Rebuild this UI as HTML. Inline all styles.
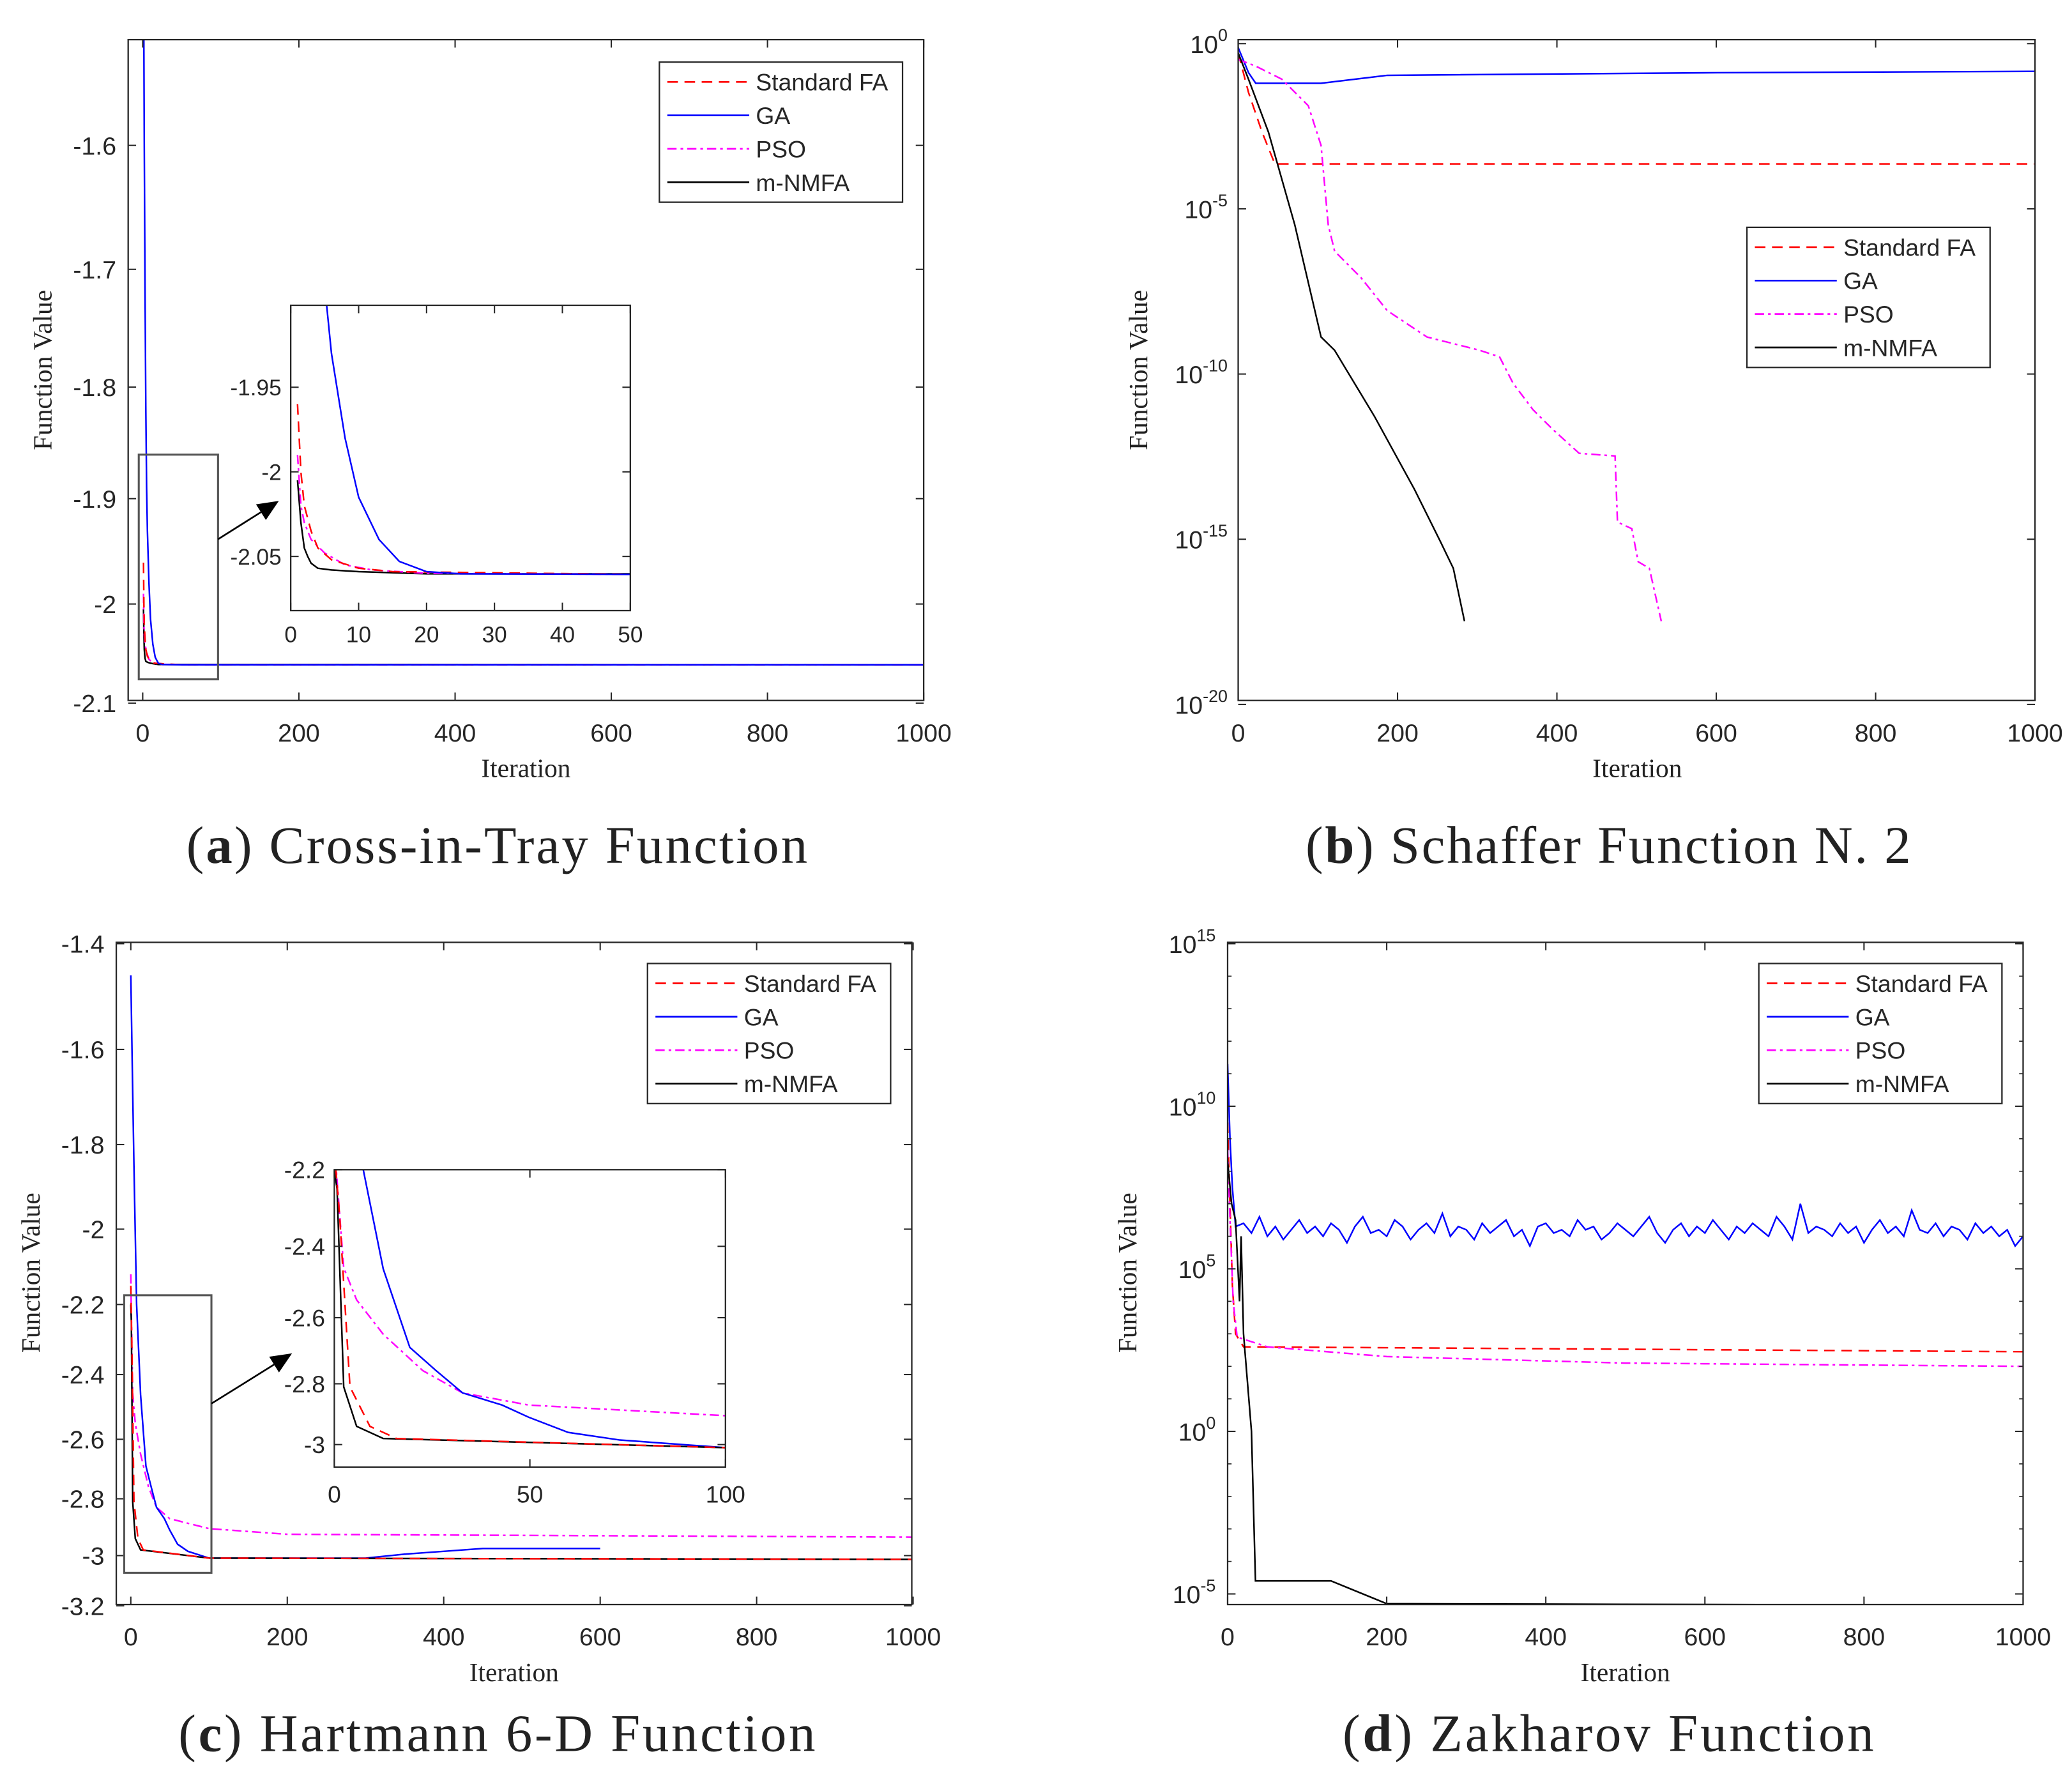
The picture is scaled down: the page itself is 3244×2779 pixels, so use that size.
<!DOCTYPE html>
<html><head><meta charset="utf-8">
<style>
html,body{margin:0;padding:0;background:#fff;}
svg{display:block;}
text{font-family:"Liberation Sans",Arial,sans-serif;fill:#262626;}
.serif{font-family:"Liberation Serif","Times New Roman",serif;fill:#222;}
</style></head>
<body>
<svg id="fig" width="3244" height="2779" viewBox="0 0 1568 1343" preserveAspectRatio="none" xmlns="http://www.w3.org/2000/svg"></svg>
<script>
// ---------- DATA ----------
const xTicks = [0,200,400,600,800,1000];
const insetATicksX = [0,10,20,30,40,50];
const insetCTicksX = [0,50,100];
const aTicksY = [-2.1,-2,-1.9,-1.8,-1.7,-1.6];
const aInsetTicksY = [-2.05,-2,-1.95];
const cTicksY = [-3.2,-3,-2.8,-2.6,-2.4,-2.2,-2,-1.8,-1.6,-1.4];
const cInsetTicksY = [-3,-2.8,-2.6,-2.4,-2.2];
const bTicksExp = [-20,-15,-10,-5,0];
const dTicksExp = [-5,0,5,10,15];

// (a) Cross-in-Tray
const aGaIter = [0,1,2,3,4,5,6,8,10,13,16,20,25,50,1000];
const aGaVal  = [-1.3,-1.45,-1.6,-1.72,-1.82,-1.89,-1.93,-1.98,-2.015,-2.04,-2.053,-2.059,-2.0603,-2.0606,-2.0606];
const aFaIter = [1,1.5,2,3,4,6,10,15,50,1000];
const aFaVal  = [-1.96,-2.0,-2.02,-2.035,-2.045,-2.052,-2.057,-2.059,-2.0606,-2.0606];
const aPsoIter = [1,1.5,2,3,5,8,12,20,50,1000];
const aPsoVal  = [-1.99,-2.02,-2.03,-2.04,-2.048,-2.055,-2.058,-2.06,-2.0606,-2.0606];
const aNmIter = [1,1.5,2,2.5,3,4,6,10,20,1000];
const aNmVal  = [-2.005,-2.03,-2.045,-2.05,-2.054,-2.057,-2.058,-2.059,-2.0603,-2.0606];

// (b) Schaffer N.2 (log10 of value)
const bGaIter = [0,13,22,104,187,602,1000];
const bGaLog  = [-0.12,-0.88,-1.2,-1.2,-0.96,-0.88,-0.84];
const bFaIter = [0,13,30,46,1000];
const bFaLog  = [-0.28,-1.48,-2.68,-3.64,-3.64];
const bPsoIter = [0,22,55,88,104,113,121,154,187,237,303,328,345,370,395,428,473,476,494,502,516,531];
const bPsoLog  = [-0.48,-0.68,-1.08,-1.88,-3.08,-5.48,-6.28,-7.08,-8.08,-8.88,-9.28,-9.48,-10.28,-11.08,-11.68,-12.4,-12.48,-14.48,-14.68,-15.68,-15.88,-17.48];
const bNmIter = [0,13,38,71,104,121,171,221,254,270,284];
const bNmLog  = [-0.28,-1.08,-2.68,-5.48,-8.88,-9.28,-11.28,-13.48,-15.08,-15.88,-17.48];

// (c) Hartmann 6-D
const cGaIter = [0,2,4,7.4,12.5,19.3,26,32.8,42.9,49.7,59.8,73,100,300,350,400,450,600];
const cGaVal  = [-1.46,-1.65,-1.85,-2.2,-2.463,-2.69,-2.76,-2.83,-2.87,-2.91,-2.96,-2.985,-3.01,-3.01,-2.995,-2.985,-2.975,-2.975];
const cPsoIter = [0,0.5,2.4,5.7,12.5,22.6,32.8,49.7,100,200,1000];
const cPsoVal  = [-2.12,-2.2,-2.46,-2.55,-2.65,-2.76,-2.83,-2.87,-2.905,-2.925,-2.935];
const cFaIter = [0,1.35,4,9.1,15.9,100,1000];
const cFaVal  = [-2.15,-2.32,-2.81,-2.94,-2.98,-3.01,-3.015];
const cNmIter = [0,0.7,2.4,5.7,12.5,100,1000];
const cNmVal  = [-2.2,-2.25,-2.81,-2.94,-2.98,-3.01,-3.015];

// (d) Zakharov (log10 of value)
const dGaHeadIter = [0,3,6,10];
const dGaHeadLog  = [11.3,9,7.5,6.3];
const dGaNoiseLog = [6.4,6.1,6.6,6.0,6.3,5.9,6.2,6.5,6.1,6.3,6.0,6.4,6.2,5.8,6.3,6.6,6.1,6.2,6.0,6.5,
6.3,5.9,6.2,6.4,6.1,6.7,6.0,6.3,6.2,5.9,6.4,6.1,6.3,6.5,6.0,6.2,5.7,6.3,6.4,6.1,
6.2,6.0,6.5,6.2,6.3,5.9,6.1,6.4,6.2,6.0,6.3,6.6,6.1,5.8,6.2,6.4,6.0,6.3,6.1,6.5,
6.2,5.9,6.3,6.1,6.4,6.2,6.0,6.6,6.3,5.9,7.0,6.1,6.3,6.2,6.0,6.4,6.1,6.3,5.8,6.2,
6.5,6.1,6.3,6.0,6.8,6.2,6.1,6.4,6.0,6.3,6.2,5.9,6.4,6.1,6.3,6.0,6.2,5.7,6.0];
const dFaIter = [0,3,6,10,20,1000];
const dFaLog  = [9.5,7,4.5,3,2.6,2.45];
const dPsoIter = [0,3,7,12,50,200,500,1000];
const dPsoLog  = [8.7,6.5,4,2.9,2.6,2.3,2.1,2.0];
const dNmIter = [0,5,10,15,17,20,30,35,130,150,200,1000];
const dNmLog  = [8.3,7,6.5,4,6,3,0,-4.6,-4.6,-4.8,-5.3,-5.35];

const legendLabels = ['Standard FA','GA','PSO','m-NMFA'];

// ---------- HELPERS ----------
const NS='http://www.w3.org/2000/svg';
const svg=document.getElementById('fig');
function el(tag,attrs,parent){const e=document.createElementNS(NS,tag);for(const k in attrs)e.setAttribute(k,attrs[k]);(parent||svg).appendChild(e);return e;}
function lin(d0,d1,r0,r1){return v=>r0+(v-d0)*(r1-r0)/(d1-d0);}
function piece(vals,px){return v=>{let i=0;while(i<vals.length-2&&v>vals[i+1])i++;return px[i]+(v-vals[i])*(px[i+1]-px[i])/(vals[i+1]-vals[i]);};}
const STY={
 fa:{stroke:'#ff0000',dash:'8,5'},
 ga:{stroke:'#0000ff',dash:''},
 pso:{stroke:'#ff00ff',dash:'7,3,2,3'},
 nm:{stroke:'#000000',dash:''}
};
let clipN=0;
function clip(x0,y0,x1,y1){const id='c'+(clipN++);const cp=el('clipPath',{id:id});el('rect',{x:x0,y:y0,width:x1-x0,height:y1-y0},cp);return 'url(#'+id+')';}
function series(g,xs,ys,X,Y,sty,name,cp){
 const d=xs.map((x,i)=>(i?'L':'M')+X(x).toFixed(2)+','+Y(ys[i]).toFixed(2)).join(' ');
 const p=el('path',{d:d,fill:'none',stroke:sty.stroke,'stroke-width':1.2,'clip-path':cp},g);
 if(sty.dash)p.setAttribute('stroke-dasharray',sty.dash);
 
 
 return p;
}
function frame(g,x0,y0,x1,y1,name){
 const r=el('rect',{x:x0,y:y0,width:x1-x0,height:y1-y0,fill:'none',stroke:'#262626','stroke-width':1.1},g);
 
 
}
function xAxis(g,ticks,X,y0,y1,fs,dy,name){
 const ax=el('g',{},g);
 
 
 ticks.forEach(t=>{const x=X(t);
  el('line',{x1:x,y1:y1,x2:x,y2:y1-6,stroke:'#262626','stroke-width':1},ax);
  el('line',{x1:x,y1:y0,x2:x,y2:y0+6,stroke:'#262626','stroke-width':1},ax);
  const tx=el('text',{x:x,y:y1+dy,'font-size':fs,'text-anchor':'middle'},ax);tx.textContent=t;
  
  
 });
}
function yAxis(g,ticks,Y,x0,x1,fs,labelFn,name){
 const ax=el('g',{},g);
 
 
 ticks.forEach(t=>{const y=Y(t);
  el('line',{x1:x0,y1:y,x2:x0+6,y2:y,stroke:'#262626','stroke-width':1},ax);
  el('line',{x1:x1,y1:y,x2:x1-6,y2:y,stroke:'#262626','stroke-width':1},ax);
  labelFn(ax,t,y);
 });
}
function plainY(xr,fs){return (ax,t,y)=>{const tx=el('text',{x:xr,y:y+fs*0.36,'font-size':fs,'text-anchor':'end'},ax);tx.textContent=String(t);
 
 };}
function expY(xr){return (ax,t,y)=>{const tx=el('text',{x:xr,y:y+7,'font-size':19,'text-anchor':'end'},ax);
 const a=el('tspan',{},tx);a.textContent='10';
 const b=el('tspan',{dy:-9,'font-size':13},tx);b.textContent=String(t);
 
 };}
function legend(g,x0,y0,name){
 const lg=el('g',{},g);
 
 
 el('rect',{x:x0,y:y0,width:184,height:106,fill:'#fff',stroke:'#262626','stroke-width':1.1},lg);
 const keys=['fa','ga','pso','nm'];
 keys.forEach((k,i)=>{const yy=y0+15+i*25.3;
  const ent=el('g',{},lg);
  
  
  const l=el('line',{x1:x0+6,y1:yy,x2:x0+68,y2:yy,stroke:STY[k].stroke,'stroke-width':1.3},ent);
  if(STY[k].dash)l.setAttribute('stroke-dasharray',STY[k].dash);
  const t=el('text',{x:x0+73,y:yy+6.5,'font-size':18},ent);t.textContent=legendLabels[i];
 });
}
function axisTitles(g,cx,yIter,xv,cyv,name){
 const t=el('text',{x:cx,y:yIter,'font-size':20,'text-anchor':'middle',class:'serif'},g);t.textContent='Iteration';
 
 
 const v=el('text',{x:xv,y:cyv,'font-size':20,'text-anchor':'middle',class:'serif',transform:'rotate(-90 '+xv+' '+cyv+')'},g);v.textContent='Function Value';
 
 
}
function caption(cx,cy,letter,title,name,w){
 const t=el('text',{x:cx-w/2,y:cy,'font-size':40,'text-anchor':'start',class:'serif',textLength:w,lengthAdjust:'spacing'});
 const a=el('tspan',{},t);a.textContent='(';
 const b=el('tspan',{'font-weight':'bold'},t);b.textContent=letter;
 const c=el('tspan',{},t);c.textContent=') '+title;
 
 
}
function arrow(g,x1,y1,x2,y2,name){
 const a=el('g',{},g);
 
 
 const ang=Math.atan2(y2-y1,x2-x1),L=16,W=7;
 const bx=x2-L*Math.cos(ang),by=y2-L*Math.sin(ang);
 el('line',{x1:x1,y1:y1,x2:bx,y2:by,stroke:'#000','stroke-width':1.3},a);
 el('polygon',{points:[x2,y2,bx+W*Math.sin(ang),by-W*Math.cos(ang),bx-W*Math.sin(ang),by+W*Math.cos(ang)].join(','),fill:'#000'},a);
}

// ---------- PANEL A ----------
(function(){
 const g=el('g',{});
 const X=lin(0,1000,108,699);
 const Y=v=>{const t=v+2.1;return 532-(726.5*t+235*t*t);};
 const cp=clip(97,30,699,530);
 series(g,aNmIter,aNmVal,X,Y,STY.nm,'a-mnmfa-line',cp);
 series(g,aPsoIter,aPsoVal,X,Y,STY.pso,'a-pso-line',cp);
 series(g,aFaIter,aFaVal,X,Y,STY.fa,'a-fa-line',cp);
 series(g,aGaIter,aGaVal,X,Y,STY.ga,'a-ga-line',cp);
 frame(g,97,30,699,530,'a-plot-frame');
 xAxis(g,xTicks,X,30,530,19,31,'a-x-axis');
 yAxis(g,aTicksY,Y,97,699,19,plainY(88,19),'a-y-axis');
 axisTitles(g,398,588,39,280,'a');
 legend(g,499,47,'a-legend');
 const zr=el('rect',{x:105,y:344,width:60,height:170,fill:'none',stroke:'#555','stroke-width':1.5},g);
 
 arrow(g,165,408,211,379,'a-zoom-arrow');
 const ig=el('g',{},g);
 el('rect',{x:220,y:231,width:257,height:231,fill:'#fff'},ig);
 const IX=lin(0,50,220,477),IY=lin(-2,-2.05,357,421);
 const icp=clip(220,231,477,462);
 series(ig,aNmIter,aNmVal,IX,IY,STY.nm,'a-inset-mnmfa-line',icp);
 series(ig,aPsoIter,aPsoVal,IX,IY,STY.pso,'a-inset-pso-line',icp);
 series(ig,aFaIter,aFaVal,IX,IY,STY.fa,'a-inset-fa-line',icp);
 series(ig,aGaIter,aGaVal,IX,IY,STY.ga,'a-inset-ga-line',icp);
 frame(ig,220,231,477,462,'a-inset-frame');
 xAxis(ig,insetATicksX,IX,231,462,17,24,'a-inset-x-axis');
 yAxis(ig,aInsetTicksY,IY,220,477,17,plainY(213,17),'a-inset-y-axis');
})();

// ---------- PANEL B ----------
(function(){
 const g=el('g',{});
 const X=lin(0,1000,937,1540);
 const Y=lg=>33-lg*25;
 const cp=clip(937,30,1540,530);
 series(g,bGaIter,bGaLog,X,Y,STY.ga,'b-ga-line',cp);
 series(g,bFaIter,bFaLog,X,Y,STY.fa,'b-fa-line',cp);
 series(g,bPsoIter,bPsoLog,X,Y,STY.pso,'b-pso-line',cp);
 series(g,bNmIter,bNmLog,X,Y,STY.nm,'b-mnmfa-line',cp);
 frame(g,937,30,1540,530,'b-plot-frame');
 xAxis(g,xTicks,X,30,530,19,31,'b-x-axis');
 yAxis(g,bTicksExp,Y,937,1540,19,expY(929),'b-y-axis');
 axisTitles(g,1239,588,868,280,'b');
 legend(g,1322,172,'b-legend');
})();

// ---------- PANEL C ----------
(function(){
 const g=el('g',{});
 const X=lin(0,1000,99,691);
 const Y=piece(cTicksY,[1215,1177,1134,1089,1040,987,930,866,794,714]);
 const cp=clip(88,713,690,1214);
 series(g,cPsoIter,cPsoVal,X,Y,STY.pso,'c-pso-line',cp);
 series(g,cGaIter,cGaVal,X,Y,STY.ga,'c-ga-line',cp);
 series(g,cNmIter,cNmVal,X,Y,STY.nm,'c-mnmfa-line',cp);
 series(g,cFaIter,cFaVal,X,Y,STY.fa,'c-fa-line',cp);
 frame(g,88,713,690,1214,'c-plot-frame');
 xAxis(g,xTicks,X,713,1214,19,31,'c-x-axis');
 yAxis(g,cTicksY,Y,88,690,19,plainY(79,19),'c-y-axis');
 axisTitles(g,389,1272,30,963,'c');
 legend(g,490,729,'c-legend');
 const zr=el('rect',{x:94,y:980,width:66,height:210,fill:'none',stroke:'#555','stroke-width':1.5},g);
 
 arrow(g,160,1062,221,1024,'c-zoom-arrow');
 const ig=el('g',{},g);
 el('rect',{x:253,y:885,width:296,height:225,fill:'#fff'},ig);
 const IX=lin(0,100,253,549);
 const IY=piece(cInsetTicksY,[1093,1047,997,943,885]);
 const icp=clip(253,885,549,1110);
 series(ig,cPsoIter,cPsoVal,IX,IY,STY.pso,'c-inset-pso-line',icp);
 series(ig,cGaIter,cGaVal,IX,IY,STY.ga,'c-inset-ga-line',icp);
 series(ig,cNmIter,cNmVal,IX,IY,STY.nm,'c-inset-mnmfa-line',icp);
 series(ig,cFaIter,cFaVal,IX,IY,STY.fa,'c-inset-fa-line',icp);
 frame(ig,253,885,549,1110,'c-inset-frame');
 xAxis(ig,insetCTicksX,IX,885,1110,18,27,'c-inset-x-axis');
 yAxis(ig,cInsetTicksY,IY,253,549,18,plainY(246,18),'c-inset-y-axis');
})();

// ---------- PANEL D ----------
(function(){
 const g=el('g',{});
 const X=lin(0,1000,929,1531);
 const Y=lg=>1083-lg*24.6;
 const cp=clip(929,713,1531,1214);
 const gaIter=dGaHeadIter.concat(dGaNoiseLog.map((v,i)=>20+i*10));
 const gaLog=dGaHeadLog.concat(dGaNoiseLog);
 series(g,gaIter,gaLog,X,Y,STY.ga,'d-ga-line',cp);
 series(g,dFaIter,dFaLog,X,Y,STY.fa,'d-fa-line',cp);
 series(g,dPsoIter,dPsoLog,X,Y,STY.pso,'d-pso-line',cp);
 series(g,dNmIter,dNmLog,X,Y,STY.nm,'d-mnmfa-line',cp);
 frame(g,929,713,1531,1214,'d-plot-frame');
 xAxis(g,xTicks,X,713,1214,19,31,'d-x-axis');
 for(let e=-5;e<=15;e++){const y=Y(e);if(y<713||y>1214)continue;
  el('line',{x1:929,y1:y,x2:932,y2:y,stroke:'#262626','stroke-width':0.8},g);
  el('line',{x1:1531,y1:y,x2:1528,y2:y,stroke:'#262626','stroke-width':0.8},g);}
 yAxis(g,dTicksExp,Y,929,1531,19,expY(920),'d-y-axis');
 axisTitles(g,1230,1272,860,963,'d');
 legend(g,1331,729,'d-legend');
})();

caption(376,653,'a','Cross-in-Tray Function','caption-a',470);
caption(1217,653,'b','Schaffer Function N. 2','caption-b',458);
caption(376,1325,'c','Hartmann 6-D Function','caption-c',482);
caption(1217,1325,'d','Zakharov Function','caption-d',402);
</script>
</body></html>
